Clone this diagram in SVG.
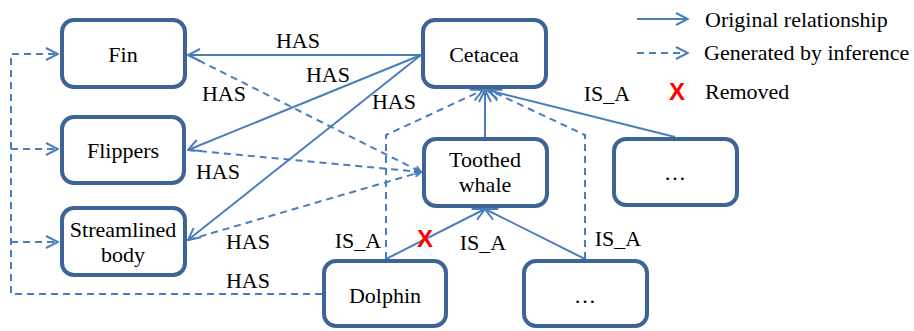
<svg xmlns="http://www.w3.org/2000/svg" width="914" height="331" viewBox="0 0 914 331">
<defs>
<marker id="arr" viewBox="0 0 14 14" refX="13" refY="7" markerWidth="14" markerHeight="14" markerUnits="userSpaceOnUse" orient="auto">
<path d="M1,1 L13,7 L1,13" fill="none" stroke="#4a7ebb" stroke-width="2"/>
</marker>
<marker id="sm" viewBox="0 0 10 10" refX="9" refY="5" markerWidth="8" markerHeight="8" markerUnits="userSpaceOnUse" orient="auto">
<path d="M1,1 L9,5 L1,9" fill="none" stroke="#4a7ebb" stroke-width="2.5"/>
</marker>
</defs>
<style>
.box{fill:#fff;stroke:#3e6396;stroke-width:4}
.t{font-family:'Liberation Serif','Times New Roman',serif;font-size:22px;fill:#000;text-anchor:middle}
.lt{font-family:'Liberation Serif','Times New Roman',serif;font-size:22px;fill:#000}
.x{font-family:'Liberation Sans',Arial,sans-serif;font-size:24px;font-weight:bold;fill:#ff0000;text-anchor:middle}
.s{fill:none;stroke:#4a7ebb;stroke-width:2}
.d{fill:none;stroke:#4a7ebb;stroke-width:2;stroke-dasharray:7 5}
</style>
<g id="connectors">
<line class="s" x1="421" y1="55" x2="188" y2="55" marker-end="url(#arr)"/>
<line class="s" x1="421" y1="55" x2="188" y2="150" marker-end="url(#arr)"/>
<line class="s" x1="421" y1="55" x2="188" y2="240" marker-end="url(#arr)"/>
<line class="s" x1="485" y1="137" x2="485" y2="90" marker-end="url(#arr)"/>
<line class="s" x1="675" y1="137" x2="487" y2="90" marker-end="url(#arr)"/>
<line class="s" x1="386" y1="259" x2="485" y2="209" marker-end="url(#arr)"/>
<line class="s" x1="585" y1="259" x2="485" y2="209" marker-end="url(#arr)"/>
<line class="d" x1="188" y1="55" x2="421" y2="172" marker-end="url(#sm)"/>
<line class="d" x1="188" y1="150" x2="421" y2="172" marker-end="url(#sm)"/>
<line class="d" x1="188" y1="240" x2="421" y2="172" marker-end="url(#sm)"/>
<polyline class="d" points="386,259 386,135 483,90" marker-end="url(#arr)"/>
<polyline class="d" points="585,259 585,135 489,90" marker-end="url(#arr)"/>
<polyline class="d" points="322,294 11,294 11,54 58,54" marker-end="url(#arr)"/>
<polyline class="d" points="11,149 58,149" marker-end="url(#arr)"/>
<polyline class="d" points="11,242 58,242" marker-end="url(#arr)"/>
<text class="t" x="298" y="48">HAS</text>
<text class="t" x="328" y="82">HAS</text>
<text class="t" x="394" y="109">HAS</text>
<text class="t" x="224" y="101">HAS</text>
<text class="t" x="218" y="179">HAS</text>
<text class="t" x="248" y="249">HAS</text>
<text class="t" x="248" y="288">HAS</text>
<text class="t" x="358" y="248">IS_A</text>
<text class="t" x="483" y="250">IS_A</text>
<text class="t" x="618" y="246">IS_A</text>
<text class="t" x="607" y="101">IS_A</text>
<text class="x" x="425" y="247">X</text>
</g>
<g id="fin"><rect class="box" x="62" y="20" width="123" height="67" rx="12"/><text class="t" x="123" y="62">Fin</text></g>
<g id="flippers"><rect class="box" x="62" y="117" width="122" height="66" rx="12"/><text class="t" x="123" y="158">Flippers</text></g>
<g id="streamlined"><rect class="box" x="62" y="208" width="123" height="67" rx="12"/><text class="t" x="123" y="237">Streamlined</text><text class="t" x="123" y="262">body</text></g>
<g id="cetacea"><rect class="box" x="423" y="20" width="123" height="67" rx="12"/><text class="t" x="484" y="62">Cetacea</text></g>
<g id="toothed"><rect class="box" x="424" y="139" width="123" height="67" rx="12"/><text class="t" x="485" y="167">Toothed</text><text class="t" x="485" y="192">whale</text></g>
<g id="other1"><rect class="box" x="614" y="139" width="123" height="66" rx="12"/><text class="t" x="675" y="180">…</text></g>
<g id="dolphin"><rect class="box" x="324" y="261" width="122" height="65" rx="12"/><text class="t" x="385" y="303">Dolphin</text></g>
<g id="other2"><rect class="box" x="524" y="261" width="123" height="65" rx="12"/><text class="t" x="585" y="303">…</text></g>
<g id="legend">
<line class="s" x1="637" y1="19" x2="688" y2="19" marker-end="url(#arr)"/>
<text class="lt" x="705" y="27">Original relationship</text>
<line class="d" x1="637" y1="53" x2="688" y2="53" marker-end="url(#arr)"/>
<text class="lt" x="704" y="60">Generated by inference</text>
<text class="x" x="677" y="100">X</text>
<text class="lt" x="705" y="99">Removed</text>
</g>
</svg>
